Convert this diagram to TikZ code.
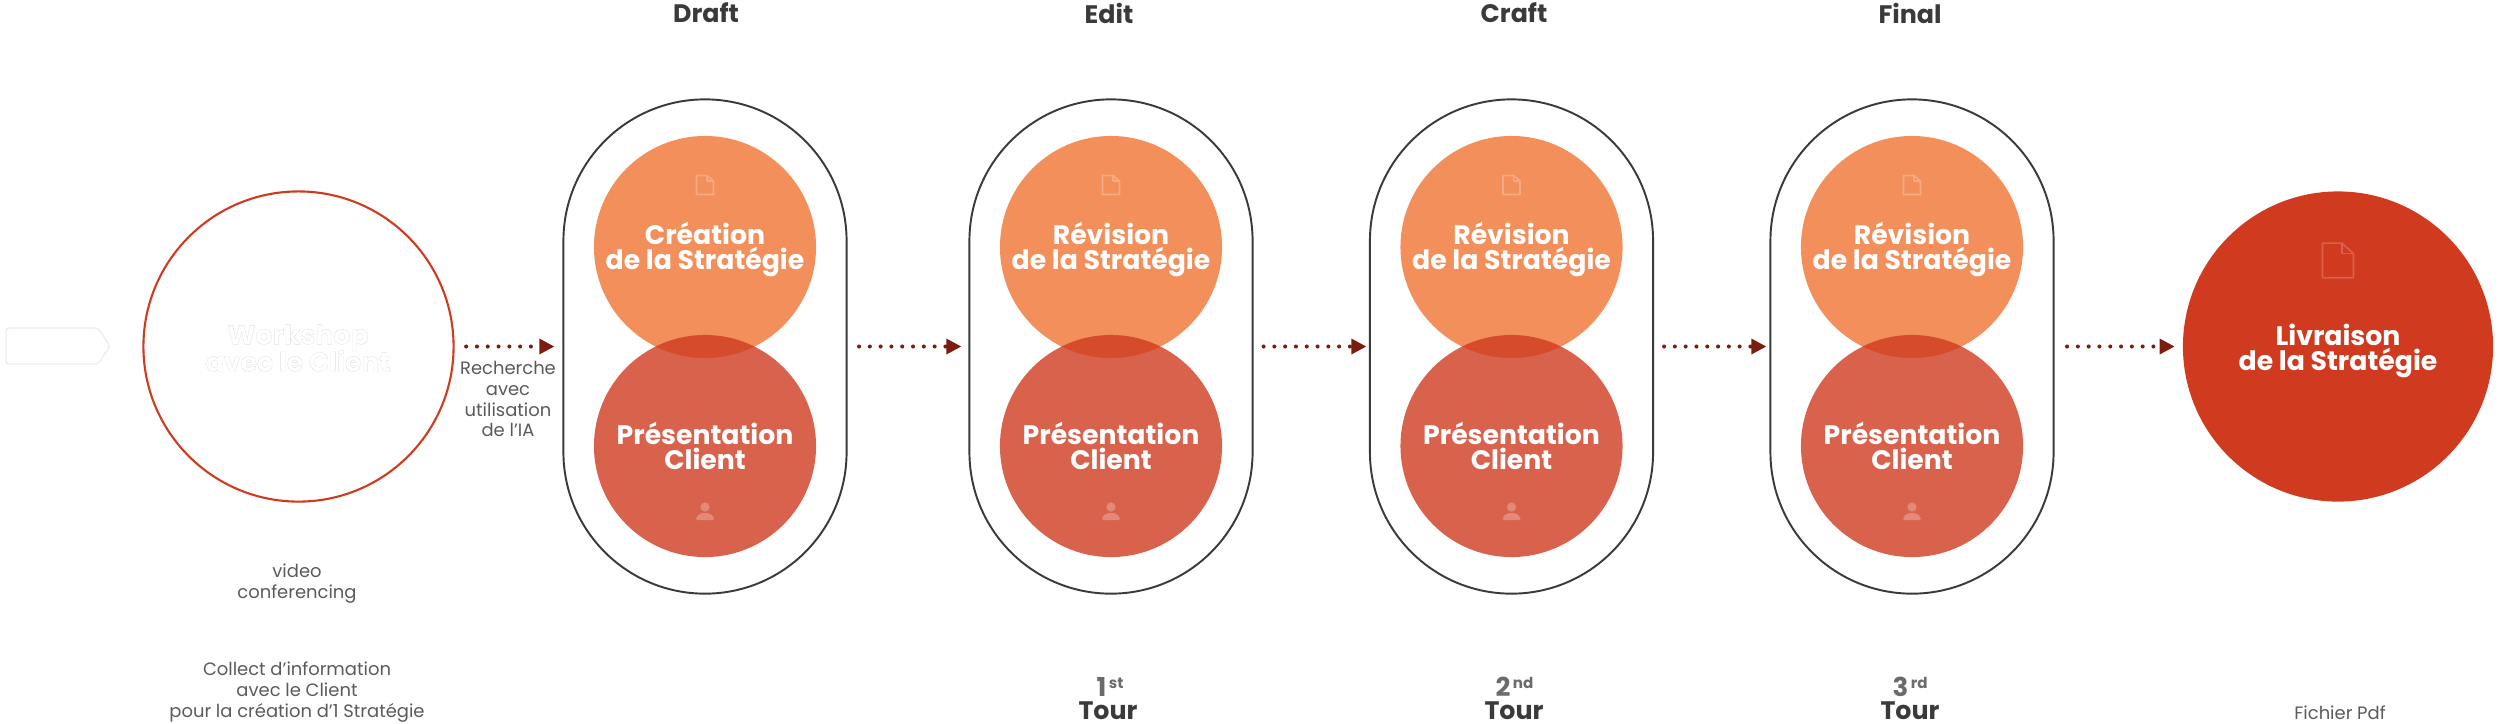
\documentclass[tikz,border=0pt]{standalone}
\usepackage{fontspec}
\usepackage{xcolor}
\setmainfont{Poppins}
\newfontfamily\ghostfont[BoldFeatures={FakeBold=0.4}]{Poppins}
\usetikzlibrary{positioning,calc,arrows.meta}
\definecolor{peach}{HTML}{F28F5A}
\definecolor{brick}{HTML}{D03B20}
\definecolor{darkred}{HTML}{7B1C0E}
\definecolor{ink}{HTML}{3A3A3A}
\definecolor{note}{HTML}{5A5A5A}
\newcommand{\tightlines}{\lineskiplimit-5pt\relax}
\tikzset{
    capsule/.style={draw=ink, line width=0.55pt, rounded corners=1.415cm, minimum width=2.83cm, minimum height=4.94cm, inner sep=0},
    disc/.style={circle, minimum size=2.22cm, inner sep=0, text=white, align=center, font=\fontsize{7.6}{7.1}\selectfont\bfseries\tightlines},
    flow/.style={darkred, line width=1.15pt, line cap=round, dash pattern=on 0pt off 3.07pt, -{Triangle[length=0.15cm,width=0.147cm,line cap=butt,sep=0pt]}},
    notetext/.style={text=note, align=center, font=\fontsize{5.1}{5.95}\selectfont},
    headtext/.style={text=ink, inner sep=0, font=\fontsize{7.2}{8}\selectfont\bfseries},
    rankno/.style={text=note!90, inner sep=0, font=\fontsize{7.4}{8}\selectfont\bfseries},
}
\newcommand{\docicon}[4]{% centre x, centre y, half width, colour
    \draw[#4, line width=0.45pt, line join=round] (#1-#3,#2-1.12*#3) -- (#1+0.25*#3,#2-1.12*#3) -- (#1+#3,#2-0.45*#3) -- (#1+#3,#2+1.12*#3) -- (#1-#3,#2+1.12*#3) -- cycle;
    \draw[#4, line width=0.45pt, line join=round] (#1+0.25*#3,#2-1.12*#3) -- (#1+0.25*#3,#2-0.45*#3) -- (#1+#3,#2-0.45*#3);
}
\begin{document}
\begin{tikzpicture}[x=0.01cm,y=-0.01cm]
    \useasboundingbox (0,0) rectangle (2500,723);
    % Start of the chain
    \draw[black!7, line width=0.4pt, rounded corners=0.03cm] (6,328) -- (98,328) -- (110,346) -- (98,364) -- (6,364) -- cycle;
    \node[circle, draw=brick, line width=0.6pt, minimum size=3.1cm, inner sep=0] (work) at (298.5,346.5) {};
    \node[inner sep=0, font=\fontsize{7.6}{7.7}\selectfont\ghostfont\bfseries\tightlines, align=center] (worktext) at (298,348) {\special{pdf:bc [1] [0.78]}Workshop\\avec le Client\special{pdf:ec}};
    \node[notetext] (iatext) at (508,399) {Recherche\\avec\\utilisation\\de l'IA};
    \node[notetext] (videotext) at (297,584) {video\\conferencing};
    \node[notetext] (collecttext) at (297,692) {Collect d'information\\avec le Client\\pour la création d'1 Stratégie};
    % Rounds
    \foreach \x/\n/\hx/\h/\t in {705/1/706/Draft/Création, 1111/2/1109/Edit/Révision, 1511.5/3/1514/Craft/Révision, 1912/4/1910/Final/Révision} {
        \node[capsule] (cap\n) at (\x,346.5) {};
        \node[disc, fill=peach] (top\n) at (\x,247) {\rule{0pt}{8pt}\t\\de la Stratégie};
        \node[disc, fill=brick, fill opacity=0.8, text opacity=1] (low\n) at (\x,446) {Présentation\\Client};
        \node[headtext] (head\n) at (\hx,13) {\h};
        \docicon{\x}{185}{8.5}{white!25!peach}
        \fill[white!25!brick!80!white] (\x,507) circle (4.6);
        \fill[white!25!brick!80!white, rounded corners=0.02cm] (\x-9,520) -- (\x-9,517) -- (\x-4,513) -- (\x+4,513) -- (\x+9,517) -- (\x+9,520) -- cycle;
    }
    % Last step
    \node[disc, fill=brick, minimum size=3.1cm] (last) at (2338,346.5) {\rule{0pt}{8.5pt}Livraison\\de la Stratégie};
    \docicon{2338}{260.5}{15.5}{white!20!brick}
    \node[notetext] (pdftext) at (2340,713) {Fichier Pdf};
    % Bottom labels
    \foreach \x/\tx/\a/\b/\m in {1110/1108/1/st/a, 1514.5/1514/2/nd/b, 1910/1910/3/rd/c} {
        \node[rankno] (rank\m) at (\x,687) {\a\raisebox{2.3pt}{\fontsize{4.3}{4}\selectfont\,\b}};
        \node[headtext] (tour\m) at (\tx,710.5) {Tour};
    }
    % Arrows
    \foreach \a/\b/\s/\e in {work/cap1/0.115/0.08, cap1/cap2/0.115/0.07, cap2/cap3/0.10/0.025, cap3/cap4/0.10/0.03, cap4/last/0.125/0.075} {
        \draw[flow, shorten <=\s cm, shorten >=\e cm] (\a) -- (\b);
    }
\end{tikzpicture}
\end{document}
